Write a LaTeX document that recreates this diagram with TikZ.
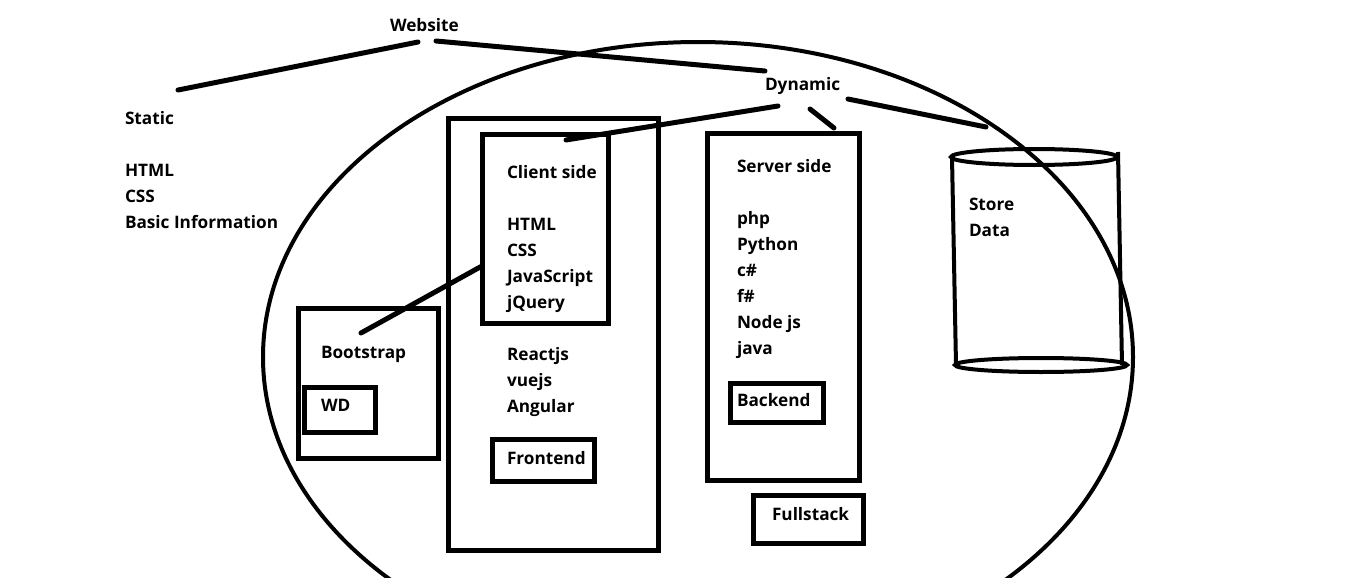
\documentclass[tikz,border=0pt]{standalone}
\usepackage{fontspec}
\setmainfont{Open Sans}
\begin{document}
\begin{tikzpicture}[x=1pt,y=-1pt,
  lbl/.style={anchor=base west,inner sep=0pt,outer sep=0pt,font=\fontsize{17.2}{21}\selectfont\bfseries},
  box/.style={draw,line width=5pt,inner sep=0pt,outer sep=0pt},
  conn/.style={line width=5pt,line cap=round},
  thin/.style={line width=4pt}]
\useasboundingbox[fill=white] (0,0) rectangle (1360,578);
% big ellipse
\draw[thin] (698,357) ellipse [x radius=435pt,y radius=315pt];
% labels left
\node[lbl] (website) at (390,32) {Website};
\node[lbl] (static) at (125,124) {Static};
\node[lbl] (shtml) at (125,176) {HTML};
\node[lbl] (scss) at (125,202) {CSS};
\node[lbl] (sbasic) at (125,228) {Basic Information};
\node[lbl] (dynamic) at (765,90) {Dynamic};
% frontend outer
\node[box,minimum width=210pt,minimum height=432pt] (front) at (553,334) {};
\node[box,minimum width=126pt,minimum height=189pt] (client) at (545,228.5) {};
\node[lbl] (clientside) at (507,178) {Client side};
\node[lbl] (chtml) at (507,230) {HTML};
\node[lbl] (ccss) at (507,256) {CSS};
\node[lbl] (cjs) at (507,282) {JavaScript};
\node[lbl] (cjq) at (507,308) {jQuery};
\node[lbl] (react) at (507,360) {Reactjs};
\node[lbl] (vue) at (507,386) {vuejs};
\node[lbl] (ang) at (507,412) {Angular};
\node[box,minimum width=102pt,minimum height=42pt] (febox) at (543,460) {};
\node[lbl] (fe) at (507,464) {Frontend};
% bootstrap
\node[box,minimum width=140pt,minimum height=150pt] (boot) at (368,383) {};
\node[lbl] (bootlbl) at (321,358) {Bootstrap};
\node[box,minimum width=71pt,minimum height=45pt] (wdbox) at (339.5,410) {};
\node[lbl] (wd) at (321,411) {WD};
% server
\node[box,minimum width=152pt,minimum height=347pt] (server) at (783,306.5) {};
\node[lbl] (serverside) at (737,172) {Server side};
\node[lbl] (php) at (737,224) {php};
\node[lbl] (py) at (737,250) {Python};
\node[lbl] (cs) at (737,276) {c\#};
\node[lbl] (fs) at (737,302) {f\#};
\node[lbl] (node) at (737,328) {Node js};
\node[lbl] (java) at (737,354) {java};
\node[box,minimum width=93pt,minimum height=39pt] (bebox) at (776.5,403) {};
\node[lbl] (be) at (737,406) {Backend};
\node[box,minimum width=110pt,minimum height=48pt] (fsbox) at (808,519) {};
\node[lbl] (full) at (772,520) {Fullstack};
% cylinder
\draw[thin] (1034,157) ellipse [x radius=83pt,y radius=8pt];
\draw[thin] (1041,365) ellipse [x radius=86pt,y radius=7pt];
\coordinate (cylTL) at (952,157);
\coordinate (cylBL) at (956,365);
\coordinate (cylTR) at (1118,152);
\coordinate (cylBR) at (1122,365);
\draw[thin] (cylTL) -- (cylBL);
\draw[thin] (cylTR) -- (cylBR);
\node[lbl] (store) at (969,210) {Store};
\node[lbl] (data) at (969,236) {Data};
% connectors
\coordinate (wsL) at (418,42);
\coordinate (stT) at (178,90);
\coordinate (wsR) at (436,41);
\coordinate (dyT) at (765,71);
\coordinate (dyL) at (778,106);
\coordinate (clT) at (566,140);
\coordinate (dyM) at (810,109);
\coordinate (svT) at (834,128);
\coordinate (dyR) at (848,99);
\coordinate (cyT) at (986,127);
\coordinate (btT) at (361,333);
\coordinate (clL) at (482,266);
\draw[conn] (stT) -- (wsL);
\draw[conn] (wsR) -- (dyT);
\draw[conn] (dyL) -- (clT);
\draw[conn] (dyM) -- (svT);
\draw[conn] (dyR) -- (cyT);
\draw[conn] (btT) -- (clL);
\end{tikzpicture}
\end{document}
